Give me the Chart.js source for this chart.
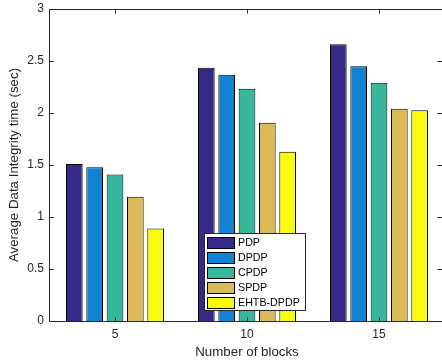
<!DOCTYPE html>
<html>
<head>
<meta charset="utf-8">
<script src="https://cdn.jsdelivr.net/npm/chart.js@4/dist/chart.umd.min.js"></script>
<style>
    html, body { margin: 0; padding: 0; background: #fff; overflow: hidden; }
    #barChart { display: block; }
</style>
</head>
<body>
<canvas id="barChart" width="442" height="361"></canvas>
<script>
// data
const categories = ['5', '10', '15'];
const seriesNames = ['PDP', 'DPDP', 'CPDP', 'SPDP', 'EHTB-DPDP'];
const pdp = [1.51, 2.435, 2.66];
const dpdp = [1.478, 2.367, 2.45];
const cpdp = [1.408, 2.233, 2.29];
const spdp = [1.195, 1.906, 2.04];
const ehtbDpdp = [0.889, 1.627, 2.027];
const yTicks = [0, 0.5, 1, 1.5, 2, 2.5, 3];

const seriesValues = [pdp, dpdp, cpdp, spdp, ehtbDpdp];
const seriesColors = ['#352A87', '#1283D4', '#37B89D', '#D9BA56', '#F9FB0E'];
const axisColor = '#262626';
const fontFamily = '"Liberation Sans", Arial, sans-serif';

// the axes box runs a little past the right edge of the picture
const widenArea = {
    id: 'widenArea',
    afterLayout(chart) {
        const right = 445;
        const a = chart.chartArea;
        a.right = right;
        a.width = right - a.left;
        const x = chart.scales.x;
        x.right = right;
        x.width = right - x.left;
        x.configure();
    }
};

// matlab style box with inward ticks
const boxPlugin = {
    id: 'boxPlugin',
    afterDatasetsDraw(chart) {
        const {ctx, chartArea: a, scales} = chart;
        ctx.save();
        ctx.strokeStyle = axisColor;
        ctx.lineWidth = 1;
        const l = Math.round(a.left) + 0.5, r = Math.round(a.right) - 0.5;
        const t = Math.round(a.top) + 0.5, b = Math.round(a.bottom) + 0.5;
        ctx.beginPath();
        ctx.moveTo(l, b); ctx.lineTo(l, t); ctx.lineTo(chart.width, t);
        ctx.moveTo(l, b); ctx.lineTo(chart.width, b);
        if (r < chart.width) {
            ctx.moveTo(r, t); ctx.lineTo(r, b);
        }
        yTicks.forEach(v => {
            const y = Math.round(scales.y.getPixelForValue(v)) + 0.5;
            ctx.moveTo(l, y); ctx.lineTo(l + 4, y);
            ctx.moveTo(r, y); ctx.lineTo(r - 7, y);
        });
        categories.forEach((c, i) => {
            const x = Math.round(scales.x.getPixelForValue(i)) + 0.5;
            ctx.moveTo(x, b); ctx.lineTo(x, b - 4);
            ctx.moveTo(x, t); ctx.lineTo(x, t + 4);
        });
        ctx.stroke();
        ctx.restore();
    }
};

// legend inside the axes
const insideLegend = {
    id: 'insideLegend',
    afterDraw(chart) {
        const ctx = chart.ctx;
        const x0 = 204.5, y0 = 233.5, w = 101, h = 77;
        ctx.save();
        ctx.fillStyle = '#fff';
        ctx.fillRect(x0, y0, w, h);
        ctx.strokeStyle = axisColor;
        ctx.lineWidth = 1;
        ctx.strokeRect(x0, y0, w, h);
        ctx.font = '10.7px ' + fontFamily;
        ctx.textBaseline = 'middle';
        chart.data.datasets.forEach((ds, i) => {
            const cy = y0 + 9 + i * 15;
            ctx.fillStyle = ds.backgroundColor;
            ctx.fillRect(207.5, Math.round(cy - 5.5) + 0.5, 27, 11);
            ctx.strokeStyle = '#000';
            ctx.strokeRect(207.5, Math.round(cy - 5.5) + 0.5, 27, 11);
            ctx.fillStyle = '#000';
            ctx.fillText(ds.label, 238, cy + 0.5);
        });
        ctx.restore();
    }
};

const datasets = seriesNames.map((name, i) => ({
    label: name,
    data: seriesValues[i],
    backgroundColor: seriesColors[i],
    borderColor: '#000',
    borderWidth: 1,
    categoryPercentage: 0.77,
    barPercentage: 0.82,
}));

new Chart(document.getElementById('barChart'), {
    type: 'bar',
    data: {labels: categories, datasets: datasets},
    options: {
        responsive: false,
        animation: false,
        layout: {padding: {top: 9, right: 0, left: 0, bottom: 0}},
        plugins: {
            legend: {display: false},
            tooltip: {enabled: false},
        },
        scales: {
            x: {
                grid: {display: false, drawTicks: false},
                border: {display: false},
                ticks: {
                    color: axisColor,
                    padding: 6,
                    font: {family: fontFamily, size: 12},
                },
                title: {
                    display: true,
                    text: 'Number of blocks',
                    color: axisColor,
                    padding: {top: 0, bottom: 1},
                    font: {family: fontFamily, size: 13.3},
                },
                afterFit(scale) { scale.height = 40; },
            },
            y: {
                min: 0,
                max: 3,
                grid: {display: false, drawTicks: false},
                border: {display: false},
                afterBuildTicks(scale) { scale.ticks = yTicks.map(v => ({value: v})); },
                ticks: {
                    color: axisColor,
                    padding: 5,
                    font: {family: fontFamily, size: 12},
                    callback: v => String(v),
                },
                title: {
                    display: true,
                    text: 'Average Data Integrity time (sec)',
                    color: axisColor,
                    padding: {top: 6, bottom: 0},
                    font: {family: fontFamily, size: 13.3},
                },
                afterFit(scale) {
                    scale.width = 49;
                    scale.paddingTop = 0;
                    scale.paddingBottom = 0;
                },
            },
        },
    },
    plugins: [widenArea, boxPlugin, insideLegend],
});
</script>
</body>
</html>
